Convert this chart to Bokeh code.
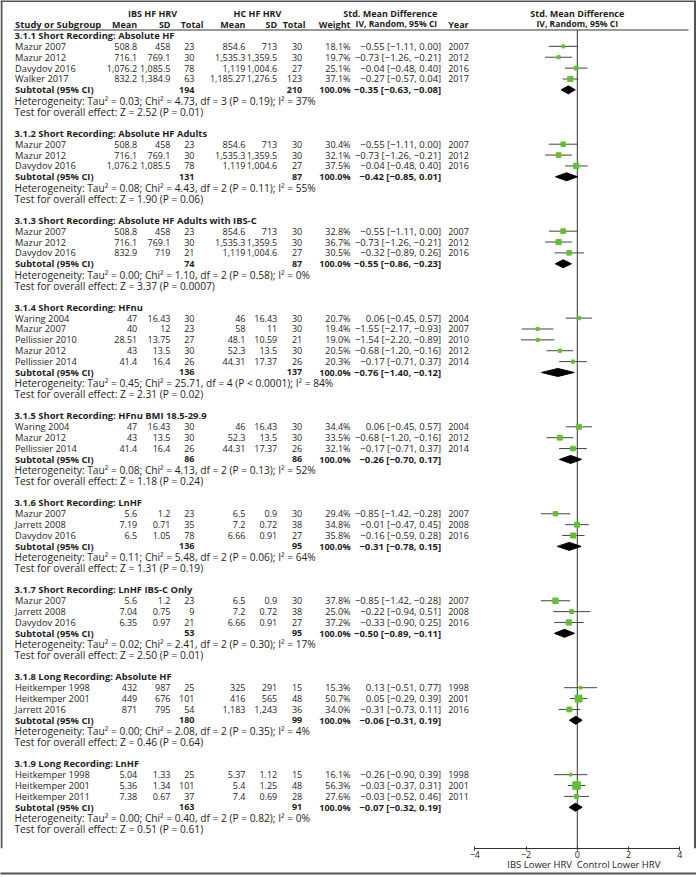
from bokeh.plotting import figure
from bokeh.models import Range1d, LinearAxis, FixedTicker, ColumnDataSource
from bokeh.embed import file_html
from bokeh.resources import INLINE
from bokeh.core.properties import value

# ---------------- data ----------------
section_title = [
    "3.1.1 Short Recording: Absolute HF",
    "3.1.2 Short Recording: Absolute HF Adults",
    "3.1.3 Short Recording: Absolute HF Adults with IBS-C",
    "3.1.4 Short Recording: HFnu",
    "3.1.5 Short Recording: HFnu BMI 18.5-29.9",
    "3.1.6 Short Recording: LnHF",
    "3.1.7 Short Recording: LnHF IBS-C Only",
    "3.1.8 Long Recording: Absolute HF",
    "3.1.9 Long Recording: LnHF",
]
sub_ibs_n = [194, 131, 74, 136, 86, 136, 53, 180, 163]
sub_hc_n = [210, 87, 87, 137, 86, 95, 95, 99, 91]
sub_smd = [-0.35, -0.42, -0.55, -0.76, -0.26, -0.31, -0.50, -0.06, -0.07]
sub_lo = [-0.63, -0.85, -0.86, -1.40, -0.70, -0.78, -0.89, -0.31, -0.32]
sub_hi = [-0.08, 0.01, -0.23, -0.12, 0.17, 0.15, -0.11, 0.19, 0.19]
het_text = [
    "Heterogeneity: Tau² = 0.03; Chi² = 4.73, df = 3 (P = 0.19); I² = 37%",
    "Heterogeneity: Tau² = 0.08; Chi² = 4.43, df = 2 (P = 0.11); I² = 55%",
    "Heterogeneity: Tau² = 0.00; Chi² = 1.10, df = 2 (P = 0.58); I² = 0%",
    "Heterogeneity: Tau² = 0.45; Chi² = 25.71, df = 4 (P < 0.0001); I² = 84%",
    "Heterogeneity: Tau² = 0.08; Chi² = 4.13, df = 2 (P = 0.13); I² = 52%",
    "Heterogeneity: Tau² = 0.11; Chi² = 5.48, df = 2 (P = 0.06); I² = 64%",
    "Heterogeneity: Tau² = 0.02; Chi² = 2.41, df = 2 (P = 0.30); I² = 17%",
    "Heterogeneity: Tau² = 0.00; Chi² = 2.08, df = 2 (P = 0.35); I² = 4%",
    "Heterogeneity: Tau² = 0.00; Chi² = 0.40, df = 2 (P = 0.82); I² = 0%",
]
z_text = [
    "Test for overall effect: Z = 2.52 (P = 0.01)",
    "Test for overall effect: Z = 1.90 (P = 0.06)",
    "Test for overall effect: Z = 3.37 (P = 0.0007)",
    "Test for overall effect: Z = 2.31 (P = 0.02)",
    "Test for overall effect: Z = 1.18 (P = 0.24)",
    "Test for overall effect: Z = 1.31 (P = 0.19)",
    "Test for overall effect: Z = 2.50 (P = 0.01)",
    "Test for overall effect: Z = 0.46 (P = 0.64)",
    "Test for overall effect: Z = 0.51 (P = 0.61)",
]

study_section = [0, 0, 0, 0, 1, 1, 1, 2, 2, 2, 3, 3, 3, 3, 3, 4, 4, 4, 5, 5, 5, 6, 6, 6, 7, 7, 7, 8, 8, 8]
study_name = [
    "Mazur 2007", "Mazur 2012", "Davydov 2016", "Walker 2017",
    "Mazur 2007", "Mazur 2012", "Davydov 2016",
    "Mazur 2007", "Mazur 2012", "Davydov 2016",
    "Waring 2004", "Mazur 2007", "Pellissier 2010", "Mazur 2012", "Pellissier 2014",
    "Waring 2004", "Mazur 2012", "Pellissier 2014",
    "Mazur 2007", "Jarrett 2008", "Davydov 2016",
    "Mazur 2007", "Jarrett 2008", "Davydov 2016",
    "Heitkemper 1998", "Heitkemper 2001", "Jarrett 2016",
    "Heitkemper 1998", "Heitkemper 2001", "Heitkemper 2011",
]
ibs_mean = ["508.8", "716.1", "1,076.2", "832.2", "508.8", "716.1", "1,076.2", "508.8", "716.1", "832.9",
            "47", "40", "28.51", "43", "41.4", "47", "43", "41.4", "5.6", "7.19", "6.5", "5.6", "7.04", "6.35",
            "432", "449", "871", "5.04", "5.36", "7.38"]
ibs_sd = ["458", "769.1", "1,085.5", "1,384.9", "458", "769.1", "1,085.5", "458", "769.1", "719",
          "16.43", "12", "13.75", "13.5", "16.4", "16.43", "13.5", "16.4", "1.2", "0.71", "1.05", "1.2", "0.75", "0.97",
          "987", "676", "795", "1.33", "1.34", "0.67"]
ibs_n = [23, 30, 78, 63, 23, 30, 78, 23, 30, 21, 30, 23, 27, 30, 26, 30, 30, 26, 23, 35, 78, 23, 9, 21,
         25, 101, 54, 25, 101, 37]
hc_mean = ["854.6", "1,535.3", "1,119", "1,185.27", "854.6", "1,535.3", "1,119", "854.6", "1,535.3", "1,119",
           "46", "58", "48.1", "52.3", "44.31", "46", "52.3", "44.31", "6.5", "7.2", "6.66", "6.5", "7.2", "6.66",
           "325", "416", "1,183", "5.37", "5.4", "7.4"]
hc_sd = ["713", "1,359.5", "1,004.6", "1,276.5", "713", "1,359.5", "1,004.6", "713", "1,359.5", "1,004.6",
         "16.43", "11", "10.59", "13.5", "17.37", "16.43", "13.5", "17.37", "0.9", "0.72", "0.91", "0.9", "0.72", "0.91",
         "291", "565", "1,243", "1.12", "1.25", "0.69"]
hc_n = [30, 30, 27, 123, 30, 30, 27, 30, 30, 27, 30, 30, 21, 30, 26, 30, 30, 26, 30, 38, 27, 30, 38, 27,
        15, 48, 36, 15, 48, 28]
weight = [18.1, 19.7, 25.1, 37.1, 30.4, 32.1, 37.5, 32.8, 36.7, 30.5,
          20.7, 19.4, 19.0, 20.5, 20.3, 34.4, 33.5, 32.1, 29.4, 34.8, 35.8, 37.8, 25.0, 37.2,
          15.3, 50.7, 34.0, 16.1, 56.3, 27.6]
smd = [-0.55, -0.73, -0.04, -0.27, -0.55, -0.73, -0.04, -0.55, -0.73, -0.32,
       0.06, -1.55, -1.54, -0.68, -0.17, 0.06, -0.68, -0.17, -0.85, -0.01, -0.16, -0.85, -0.22, -0.33,
       0.13, 0.05, -0.31, -0.26, -0.03, -0.03]
ci_lo = [-1.11, -1.26, -0.48, -0.57, -1.11, -1.26, -0.48, -1.11, -1.26, -0.89,
         -0.45, -2.17, -2.20, -1.20, -0.71, -0.45, -1.20, -0.71, -1.42, -0.47, -0.59, -1.42, -0.94, -0.90,
         -0.51, -0.29, -0.73, -0.90, -0.37, -0.52]
ci_hi = [0.00, -0.21, 0.40, 0.04, 0.00, -0.21, 0.40, 0.00, -0.21, 0.26,
         0.57, -0.93, -0.89, -0.16, 0.37, 0.57, -0.16, 0.37, -0.28, 0.45, 0.28, -0.28, 0.51, 0.25,
         0.77, 0.39, 0.11, 0.39, 0.31, 0.46]
year = [2007, 2012, 2016, 2017, 2007, 2012, 2016, 2007, 2012, 2016,
        2004, 2007, 2010, 2012, 2014, 2004, 2012, 2014, 2007, 2008, 2016, 2007, 2008, 2016,
        1998, 2001, 2016, 1998, 2001, 2011]

axis_ticks = [-4, -2, 0, 2, 4]
favour_labels = ["IBS Lower HRV", "Control Lower HRV"]
favour_label_pos = [-1.47, 1.61]

# ---------------- layout constants ----------------
FONT = "Open Sans"
FS_NUM = "9px"
FS_CI = "9.5px"
FS_NAME = "9.3px"
FS_TITLE = "9.4px"
FS_HEAD = "9px"
FS_HET = "10.2px"
TXT = "#1e1e1e"
GREEN = "#62c030"
BORDER = "#555555"
Y0 = 35.0
PITCH = 10.87
X_LEFT = 14.5
X_IBS_MEAN, X_IBS_SD, X_IBS_N = 136.7, 170.0, 194.0
X_HC_MEAN, X_HC_SD, X_HC_N = 245.0, 276.7, 301.7
X_W, X_CI, X_YEAR = 350.0, 440.7, 447.7
UNIT_PX = 25.625
CANVAS_W = 696
FRAME_H = 848


def fmt(v):
    return f"{v:.2f}".replace("-", "\u2212")


def ci_str(e, lo, hi):
    return f"{fmt(e)} [{fmt(lo)}, {fmt(hi)}]"


# ---------------- figure ----------------
p = figure(frame_width=CANVAS_W, frame_height=FRAME_H,
           output_backend="svg", toolbar_location=None,
           x_range=Range1d(0, CANVAS_W), y_range=Range1d(FRAME_H, 0),
           x_axis_location=None, y_axis_location=None, min_border=0, min_border_bottom=29)
p.outline_line_color = None
p.grid.grid_line_color = None
p.background_fill_color = "white"
p.border_fill_color = "white"

smd_start = -4 - 474.3 / UNIT_PX
smd_end = 4 + (CANVAS_W - 679.3) / UNIT_PX
p.extra_x_ranges = {"smd": Range1d(smd_start, smd_end)}

groups = {}


def add_text(x, y, t, align="left", bold=False, size=FS_NAME, rng="default"):
    key = (align, bold, size, rng)
    g = groups.setdefault(key, {"x": [], "y": [], "t": []})
    g["x"].append(x)
    g["y"].append(y)
    g["t"].append(t)


# header
add_text(152, 12.5, "IBS HF HRV", "center", True, FS_HEAD)
add_text(257, 12.5, "HC HF HRV", "center", True, FS_HEAD)
add_text(436.7, 12.5, "Std. Mean Difference", "right", True, FS_HEAD)
add_text(0, 12.5, "Std. Mean Difference", "center", True, FS_HEAD, "smd")
add_text(X_LEFT, 23.5, "Study or Subgroup", "left", True, FS_TITLE)
add_text(X_IBS_MEAN, 23.5, "Mean", "right", True, FS_HEAD)
add_text(X_IBS_SD, 23.5, "SD", "right", True, FS_HEAD)
add_text(203, 23.5, "Total", "right", True, FS_HEAD)
add_text(X_HC_MEAN, 23.5, "Mean", "right", True, FS_HEAD)
add_text(X_HC_SD, 23.5, "SD", "right", True, FS_HEAD)
add_text(305, 23.5, "Total", "right", True, FS_HEAD)
add_text(X_W, 23.5, "Weight", "right", True, FS_HEAD)
add_text(436.7, 23.5, "IV, Random, 95% CI", "right", True, "8.6px")
add_text(X_YEAR, 23.5, "Year", "left", True, FS_HEAD)
add_text(0, 23.5, "IV, Random, 95% CI", "center", True, "8.6px", "smd")

study_y = []
sub_y = []
row = 0
for s in range(len(section_title)):
    add_text(X_LEFT - 0.5, Y0 + row * PITCH, section_title[s], "left", True, FS_TITLE)
    row += 1
    for i in range(len(study_name)):
        if study_section[i] != s:
            continue
        y = Y0 + row * PITCH
        study_y.append(y)
        add_text(X_LEFT, y, study_name[i], "left", False, FS_NAME)
        add_text(X_IBS_MEAN, y, ibs_mean[i], "right", False, FS_NUM)
        add_text(X_IBS_SD, y, ibs_sd[i], "right", False, FS_NUM)
        add_text(X_IBS_N, y, str(ibs_n[i]), "right", False, FS_NUM)
        add_text(X_HC_MEAN, y, hc_mean[i], "right", False, FS_NUM)
        add_text(X_HC_SD, y, hc_sd[i], "right", False, FS_NUM)
        add_text(X_HC_N, y, str(hc_n[i]), "right", False, FS_NUM)
        add_text(X_W, y, f"{weight[i]:.1f}%", "right", False, FS_NUM)
        add_text(X_CI, y, ci_str(smd[i], ci_lo[i], ci_hi[i]), "right", False, FS_CI)
        add_text(X_YEAR, y, str(year[i]), "left", False, FS_NUM)
        row += 1
    y = Y0 + row * PITCH
    sub_y.append(y)
    add_text(X_LEFT, y, "Subtotal (95% CI)", "left", True, FS_NAME)
    add_text(X_IBS_N, y, str(sub_ibs_n[s]), "right", True, FS_NUM)
    add_text(X_HC_N, y, str(sub_hc_n[s]), "right", True, FS_NUM)
    add_text(X_W, y, "100.0%", "right", True, FS_NUM)
    add_text(X_CI, y, ci_str(sub_smd[s], sub_lo[s], sub_hi[s]), "right", True, FS_CI)
    row += 1
    add_text(X_LEFT - 0.5, Y0 + row * PITCH, het_text[s], "left", False, FS_HET)
    row += 1
    add_text(X_LEFT - 0.5, Y0 + row * PITCH, z_text[s], "left", False, FS_HET)
    row += 2

for (align, bold, size, rng), g in groups.items():
    src = ColumnDataSource(g)
    kw = {}
    if rng != "default":
        kw["x_range_name"] = rng
    p.text(x="x", y="y", text="t", source=src, text_align=align, text_baseline="middle",
           text_font=value(FONT), text_font_size=value(size),
           text_font_style="bold" if bold else "normal", text_color=TXT, **kw)

# header underline, zero line, frame border
p.segment(x0=[13], x1=[688], y0=[29.5], y1=[29.5], line_color="#333333", line_width=1)
p.segment(x0=[0], x1=[0], y0=[29.5], y1=[FRAME_H], line_color="#333333", line_width=1,
          x_range_name="smd")
p.segment(x0=[1, 0, CANVAS_W - 1.5], x1=[1, CANVAS_W, CANVAS_W - 1.5],
          y0=[0, 0.5, 0], y1=[FRAME_H, 0.5, FRAME_H],
          line_color=BORDER, line_width=2)

# forest: CI lines and squares
forest = ColumnDataSource(dict(y=study_y, smd=smd, lo=ci_lo, hi=ci_hi,
                               size=[0.12 * w + 0.8 for w in weight]))
p.segment(x0="lo", x1="hi", y0="y", y1="y", source=forest, line_color="#444444", line_width=1,
          x_range_name="smd")
p.scatter(x="smd", y="y", size="size", marker="square", source=forest, fill_color=GREEN,
          line_color=GREEN, x_range_name="smd")

# diamonds
xs = [[lo, e, hi, e] for lo, e, hi in zip(sub_lo, sub_smd, sub_hi)]
ys = [[y, y - 4, y, y + 4] for y in sub_y]
p.patches(xs=xs, ys=ys, fill_color="black", line_color="black", x_range_name="smd")

# numeric axis
ax = LinearAxis(x_range_name="smd", bounds=(-4, 4), ticker=FixedTicker(ticks=axis_ticks))
ax.major_label_overrides = {t: (str(t).replace("-", "\u2212")) for t in axis_ticks}
ax.minor_tick_line_color = None
ax.major_tick_in = 2
ax.major_tick_out = 2
ax.major_label_standoff = 0
ax.axis_line_color = "#333333"
ax.major_tick_line_color = "#333333"
ax.major_label_text_font = FONT
ax.major_label_text_font_size = "9px"
ax.major_label_text_color = TXT
p.add_layout(ax, "below")

# favour labels axis
ax2 = LinearAxis(x_range_name="smd", ticker=FixedTicker(ticks=favour_label_pos))
ax2.major_label_overrides = {pos: lab for pos, lab in zip(favour_label_pos, favour_labels)}
ax2.minor_tick_line_color = None
ax2.major_tick_line_color = None
ax2.axis_line_color = None
ax2.major_tick_in = 0
ax2.major_tick_out = 0
ax2.major_label_standoff = -3
ax2.major_label_text_font = FONT
ax2.major_label_text_font_size = "9.5px"
ax2.major_label_text_color = TXT
p.add_layout(ax2, "below")

# bottom border line of the picture
ax3 = LinearAxis(ticker=FixedTicker(ticks=[]))
ax3.axis_line_color = BORDER
ax3.axis_line_width = 2
ax3.major_tick_line_color = None
ax3.minor_tick_line_color = None
ax3.major_tick_in = 0
ax3.major_tick_out = 0
ax3.major_label_text_font_size = "0px"
p.add_layout(ax3, "below")

open("out.html", "w").write(file_html(p, INLINE))
